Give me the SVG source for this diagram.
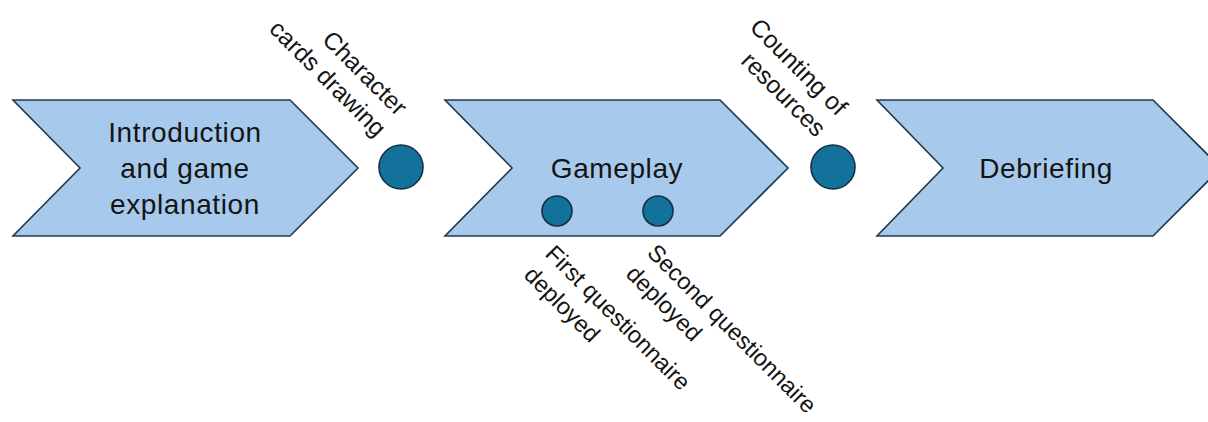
<svg xmlns="http://www.w3.org/2000/svg" width="1208" height="422" viewBox="0 0 1208 422">
  <style>
    .chev { fill: #A7CAEC; stroke: #1E3A4C; stroke-width: 1.6; stroke-linejoin: miter; }
    .dot { fill: #13729C; stroke: #16303F; stroke-width: 1.6; }
    .title { font-family: "Liberation Sans", Arial, sans-serif; font-size: 28px; fill: #141414; text-anchor: middle; letter-spacing: 0.6px; }
    .lbl { font-family: "Liberation Sans", Arial, sans-serif; font-size: 24.5px; fill: #141414; }
    .lbl2 { font-family: "Liberation Sans", Arial, sans-serif; font-size: 23.5px; fill: #141414; }
  </style>
  <rect width="1208" height="422" fill="#ffffff"/>
  <g id="intro">
    <polygon class="chev" points="13,100 290,100 358,168 290,236 13,236 80,168"/>
    <text class="title" x="185" y="142">Introduction</text>
    <text class="title" x="185" y="178">and game</text>
    <text class="title" x="185" y="214">explanation</text>
  </g>
  <g id="gameplay">
    <polygon class="chev" points="445,100 720,100 788,168 720,236 445,236 512,168"/>
    <text class="title" x="617" y="178">Gameplay</text>
  </g>
  <g id="debriefing">
    <polygon class="chev" points="877,100 1153,100 1221,168 1153,236 877,236 943,168"/>
    <text class="title" x="1046" y="178">Debriefing</text>
  </g>
  <g id="character-cards">
    <circle class="dot" cx="401" cy="167" r="22"/>
    <text class="lbl" text-anchor="end" transform="translate(397,117) rotate(45)"><tspan x="0" y="0">Character</tspan><tspan x="0" y="30">cards drawing</tspan></text>
  </g>
  <g id="counting">
    <circle class="dot" cx="833" cy="167" r="22"/>
    <text class="lbl" text-anchor="end" transform="translate(837,117) rotate(45)"><tspan x="0" y="0">Counting of</tspan><tspan x="0" y="30">resources</tspan></text>
  </g>
  <g id="first-questionnaire">
    <circle class="dot" cx="557" cy="211" r="15"/>
    <text class="lbl2" text-anchor="start" transform="translate(544,255) rotate(45)"><tspan x="0" y="0">First questionnaire</tspan><tspan x="0" y="30">deployed</tspan></text>
  </g>
  <g id="second-questionnaire">
    <circle class="dot" cx="658" cy="211" r="15"/>
    <text class="lbl2" text-anchor="start" transform="translate(646,254) rotate(45)"><tspan x="0" y="0">Second questionnaire</tspan><tspan x="0" y="30">deployed</tspan></text>
  </g>
  <g id="connectors"></g>
</svg>
